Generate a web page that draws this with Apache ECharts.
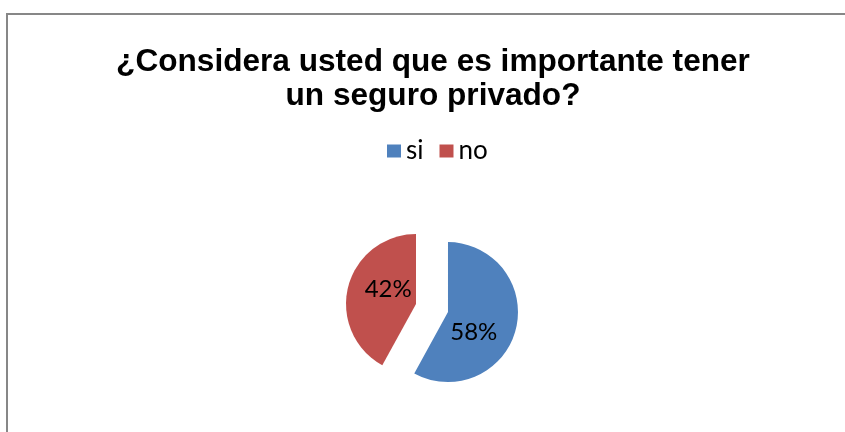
<!DOCTYPE html>
<html lang="es">
  <head>
    <meta charset="UTF-8" />
    <title>Seguro privado</title>
    <script src="https://cdn.jsdelivr.net/npm/echarts@6/dist/echarts.min.js"></script>
    <style>
      html, body { margin: 0; padding: 0; background: #fff; }
      #chart { width: 845px; height: 432px; }
    </style>
  </head>
  <body>
    <div id="chart"></div>
    <script>
      // datos
      var categorias = ["si", "no"];
      var valores = [58, 42];
      var colores = ["#4F81BD", "#C0504D"];
      // ajustes de la etiqueta para acercarla a donde la pone el original
      var rellenos = [[0, 22, 0, 0], [0, 0, 0, 18]];
      var formatos = ["{s|}\n{d}%", "{d}%\n{t|}"];

      var chart = echarts.init(document.getElementById("chart"));

      var datos = categorias.map(function (c, i) {
        return {
          name: c,
          value: valores[i],
          selected: true,
          itemStyle: { color: colores[i] },
          label: { padding: rellenos[i], formatter: formatos[i] }
        };
      });

      var option = {
        backgroundColor: "#ffffff",
        animation: false,
        title: {
          text: "¿Considera usted que es importante tener\nun seguro privado?",
          left: 428,
          textAlign: "center",
          top: 40,
          textStyle: {
            fontFamily: "Liberation Sans",
            fontWeight: "bold",
            fontSize: 31.6,
            lineHeight: 34,
            color: "#000"
          }
        },
        legend: {
          data: categorias,
          left: 387,
          top: 138,
          padding: 0,
          icon: "rect",
          itemWidth: 14,
          itemHeight: 13,
          itemGap: 16,
          itemTextGap: 6,
          textStyle: { fontFamily: "Lato", fontSize: 26, color: "#000" }
        },
        graphic: [
          {
            type: "rect",
            shape: { x: 7, y: 14, width: 900, height: 500 },
            style: { fill: "none", stroke: "#878787", lineWidth: 2 },
            silent: true
          }
        ],
        series: [
          {
            type: "pie",
            center: [432, 308],
            radius: 70,
            startAngle: 90,
            clockwise: true,
            selectedMode: "multiple",
            selectedOffset: 16.5,
            label: {
              position: "inside",
              fontFamily: "Lato",
              fontSize: 24,
              lineHeight: 28,
              color: "#000",
              rich: {
                s: { lineHeight: 22 },
                t: { lineHeight: 10 }
              }
            },
            labelLine: { show: false },
            emphasis: { disabled: true },
            data: datos
          }
        ]
      };

      chart.setOption(option);
    </script>
  </body>
</html>
